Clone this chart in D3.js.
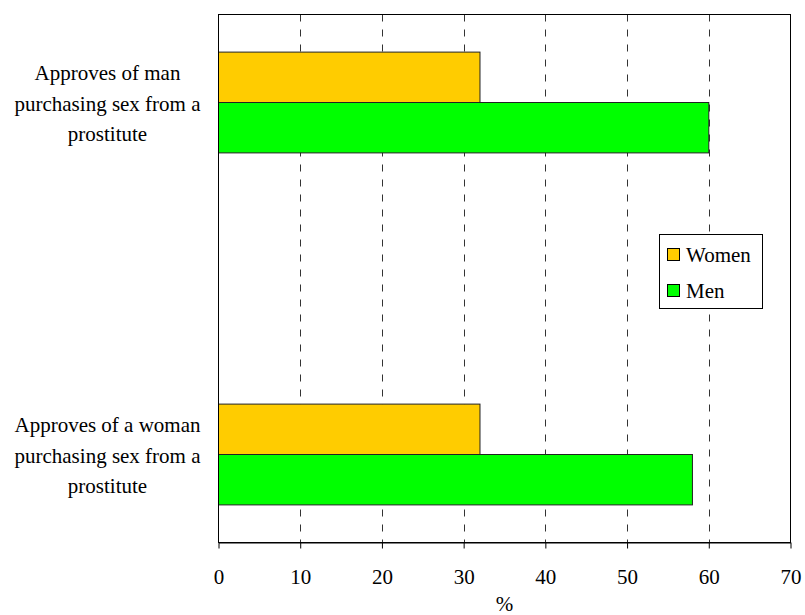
<!DOCTYPE html>
<html><head><meta charset="utf-8">
<script src="https://cdn.jsdelivr.net/npm/d3@7"></script>
<style>body{margin:0;background:#fff}svg{display:block}text{font-family:'Liberation Serif','Times New Roman',serif}</style>
</head><body>
<svg id="c" width="805" height="615"></svg>
<script>
const categories = [
  ["Approves of man", "purchasing sex from a", "prostitute"],
  ["Approves of a woman", "purchasing sex from a", "prostitute"]
];
const seriesNames = ["Women", "Men"];
const women = [32, 32];
const men = [60, 58];
const xTicks = [0, 10, 20, 30, 40, 50, 60, 70];
const colors = ["#FFCC00", "#00FF00"];

const svg = d3.select("#c");
const font = "'Liberation Serif', 'Times New Roman', serif";
const L = 218.5, R = 790.5, T = 14.5, B = 542.5;
const x = d3.scaleLinear().domain([0, 70]).range([L, R]);
const y = d3.scalePoint().domain(d3.range(categories.length)).range([T, B]).padding(0.25);
const barH = 50.4;

// gridlines
svg.append("g").selectAll("line").data(xTicks.filter(d => d > 0 && d < 70)).join("line")
  .attr("x1", d => Math.round(x(d)) + 0.5).attr("x2", d => Math.round(x(d)) + 0.5)
  .attr("y1", T).attr("y2", B)
  .attr("stroke", "#333").attr("stroke-width", 1).attr("stroke-dasharray", "7,8");

// bars
const series = [women, men];
series.forEach((vals, si) => {
  svg.append("g").selectAll("rect").data(vals).join("rect")
    .attr("x", x(0))
    .attr("y", (d, i) => y(i) - barH + si * barH)
    .attr("width", d => x(d) - x(0))
    .attr("height", barH)
    .attr("fill", colors[si])
    .attr("stroke", "#222").attr("stroke-width", 1);
});

// frame
svg.append("rect").attr("x", L).attr("y", T).attr("width", R - L).attr("height", B - T)
  .attr("fill", "none").attr("stroke", "#000").attr("stroke-width", 1);

// x axis
const xAxis = svg.append("g").attr("transform", `translate(0,${B})`)
  .call(d3.axisBottom(x).tickValues(xTicks).tickSize(6).tickSizeOuter(0));
xAxis.select(".domain").attr("stroke", "#000");
xAxis.selectAll(".tick line").attr("stroke", "#000");
xAxis.selectAll("text").attr("font-family", font).attr("font-size", 21).attr("fill", "#000")
  .attr("y", 41.5).attr("dy", 0);

svg.append("text").attr("x", (L + R) / 2).attr("y", 611).attr("text-anchor", "middle")
  .attr("font-family", font).attr("font-size", 21).text("%");

// category labels
categories.forEach((lines, i) => {
  const t = svg.append("text").attr("text-anchor", "middle")
    .attr("font-family", font).attr("font-size", 21).attr("fill", "#000");
  lines.forEach((ln, k) => {
    t.append("tspan").attr("x", 107.5).attr("y", y(i) + 8 + (k - 1) * 30.5).text(ln);
  });
});

// legend
const lg = svg.append("g");
lg.append("rect").attr("x", 659.5).attr("y", 234.5).attr("width", 103).attr("height", 74)
  .attr("fill", "#fff").attr("stroke", "#000");
seriesNames.forEach((n, i) => {
  lg.append("rect").attr("x", 667.5).attr("y", 248.5 + i * 36).attr("width", 12).attr("height", 12)
    .attr("fill", colors[i]).attr("stroke", "#000");
  lg.append("text").attr("x", 686).attr("y", 261.5 + i * 36)
    .attr("font-family", font).attr("font-size", 21).attr("fill", "#000").text(n);
});
</script>
</body></html>
